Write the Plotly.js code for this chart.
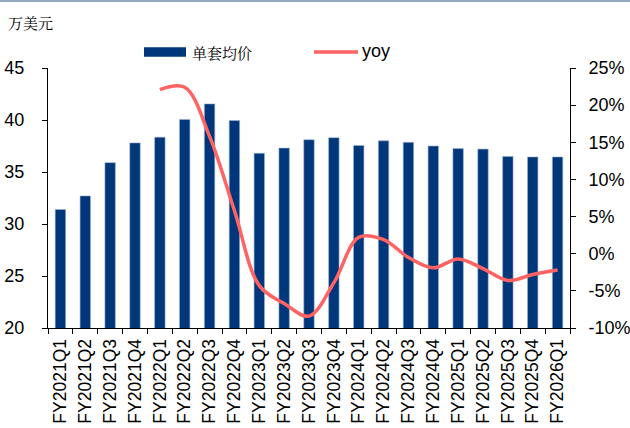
<!DOCTYPE html>
<html>
<head>
<meta charset="utf-8">
<script src="https://cdn.plot.ly/plotly-3.0.1.min.js"></script>
<style>
html,body{margin:0;padding:0;background:#fff;}
#wrap{position:relative;width:630px;height:428px;}
#topbar{position:absolute;left:0;top:0;width:630px;height:2px;background:#95A9C3;z-index:5;}
#chart{position:absolute;left:0;top:0;width:630px;height:428px;}
</style>
</head>
<body>
<div id="wrap"><div id="topbar"></div><div id="chart"></div></div>
<script>
const categories = ["FY2021Q1","FY2021Q2","FY2021Q3","FY2021Q4","FY2022Q1","FY2022Q2","FY2022Q3","FY2022Q4","FY2023Q1","FY2023Q2","FY2023Q3","FY2023Q4","FY2024Q1","FY2024Q2","FY2024Q3","FY2024Q4","FY2025Q1","FY2025Q2","FY2025Q3","FY2025Q4","FY2026Q1"];
const avgPrice = [31.4,32.7,35.9,37.8,38.35,40.05,41.55,39.95,36.8,37.3,38.1,38.3,37.55,38.0,37.85,37.5,37.25,37.2,36.5,36.45,36.45];
const yoy = [null,null,null,null,22.1,22.4,15.8,5.8,-4.3,-6.7,-8.4,-3.9,2.2,1.9,-0.5,-1.9,-0.7,-2.0,-3.6,-2.8,-2.2];
const seriesNames = ["单套均价","yoy"];
const unitLabel = "万美元";
const leftTicks = [20,25,30,35,40,45];
const rightTicks = [-10,-5,0,5,10,15,20,25];
const rightTickText = rightTicks.map(v => v + "%");

const W = 630, H = 428;
const ml = 48, mr = 60, mt = 68, mb = 100;
const pw = W - ml - mr, ph = H - mt - mb;
const px = p => (p - ml) / pw;
const py = q => (H - mb - q) / ph;

const barColor = "#00377A";
const lineColor = "#FF6363";
const sans = "Liberation Sans, Arial, sans-serif";
const cjk = "Noto Serif CJK SC, Noto Sans CJK SC, serif";

const traces = [
  {
    type: "bar", x: categories, y: avgPrice, name: seriesNames[0],
    marker: {color: barColor, line: {color: "#9DB3D0", width: 0.6}},
    yaxis: "y", showlegend: false
  },
  {
    type: "scatter", mode: "lines", x: categories, y: yoy, name: seriesNames[1],
    line: {color: lineColor, width: 3.5, shape: "spline", smoothing: 1},
    yaxis: "y2", showlegend: false, connectgaps: false
  }
];

const layout = {
  width: W, height: H,
  margin: {l: ml, r: mr, t: mt, b: mb, pad: 0},
  paper_bgcolor: "#fff", plot_bgcolor: "#fff",
  font: {family: sans, size: 17, color: "#000"},
  bargap: 0.58,
  showlegend: false,
  xaxis: {
    type: "category", tickangle: -90, showgrid: false, zeroline: false,
    showline: true, linecolor: "#000", linewidth: 1,
    ticks: "outside", ticklen: 5, tickcolor: "#000", tickson: "boundaries",
    tickfont: {family: sans, size: 17.5, color: "#000"},
    ticklabelstandoff: 3,
    range: [-0.5, categories.length - 0.5]
  },
  yaxis: {
    range: [20, 45], tickvals: leftTicks, showgrid: false, zeroline: false,
    showline: true, linecolor: "#000", linewidth: 1,
    ticks: "outside", ticklen: 5, tickcolor: "#000",
    ticklabelstandoff: 14,
    tickfont: {family: sans, size: 18, color: "#000"}
  },
  yaxis2: {
    overlaying: "y", side: "right", range: [-10, 25],
    tickmode: "array", tickvals: rightTicks, ticktext: rightTickText,
    showgrid: false, zeroline: false,
    showline: true, linecolor: "#000", linewidth: 1,
    ticks: "outside", ticklen: 5, tickcolor: "#000",
    ticklabelstandoff: 9,
    tickfont: {family: sans, size: 18, color: "#000"}
  },
  shapes: [
    {type: "rect", xref: "paper", yref: "paper", x0: px(144), x1: px(186), y0: py(56.7), y1: py(47.3),
     fillcolor: barColor, line: {width: 0}},
    {type: "line", xref: "paper", yref: "paper", x0: px(314), x1: px(358), y0: py(52), y1: py(52),
     line: {color: lineColor, width: 3.5}}
  ],
  annotations: [
    {xref: "paper", yref: "paper", x: px(6), y: py(23), xanchor: "left", yanchor: "middle",
     text: unitLabel, showarrow: false, font: {family: cjk, size: 15, color: "#000"}},
    {xref: "paper", yref: "paper", x: px(190), y: py(52), xanchor: "left", yanchor: "middle",
     text: seriesNames[0], showarrow: false, font: {family: cjk, size: 15, color: "#000"}},
    {xref: "paper", yref: "paper", x: px(360), y: py(51), xanchor: "left", yanchor: "middle",
     text: seriesNames[1], showarrow: false, font: {family: sans, size: 18, color: "#000"}}
  ]
};

Plotly.newPlot("chart", traces, layout, {displayModeBar: false, staticPlot: true});
</script>
</body>
</html>
